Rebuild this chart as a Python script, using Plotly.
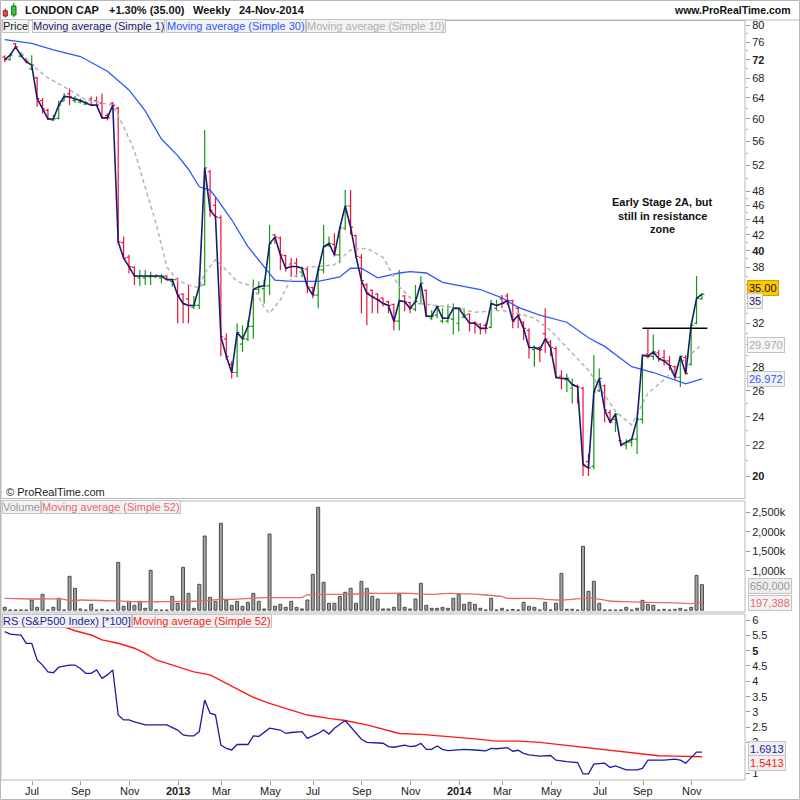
import plotly.graph_objects as go
import pandas as pd
import math

# ---------------- data ----------------
FIRST_WEEK = "2012-06-04"

open_ = [72.6,72.0,75.6,72.8,72.0,70.0,68.1,63.5,61.6,59.8,
         60.1,63.4,64.8,63.5,63.2,62.8,63.8,63.5,63.0,60.6,
         63.0,62.0,41.0,39.2,38.0,36.8,36.8,36.9,36.9,36.8,
         37.0,36.4,36.6,35.0,34.5,33.6,33.8,36.0,51.0,46.0,
         44.3,30.5,28.2,27.5,30.0,30.5,31.7,35.5,35.6,35.9,
         42.0,41.6,39.4,38.4,38.5,37.5,37.8,35.7,34.9,37.7,
         40.6,40.8,39.5,42.9,45.9,41.9,39.2,36.0,35.4,35.0,
         34.6,34.2,33.9,32.2,34.8,34.1,33.4,34.0,35.4,32.5,
         32.8,32.2,32.2,32.4,32.0,32.6,32.9,32.1,31.9,31.8,
         31.6,33.5,34.5,34.8,34.3,33.5,32.1,31.3,29.5,29.7,
         31.0,30.2,29.6,27.2,26.9,26.2,26.4,26.2,20.9,20.6,
         26.0,26.4,24.3,23.8,22.3,22.0,22.2,22.4,23.8,29.1,
         28.9,29.2,28.8,28.5,28.0,27.1,28.8,28.2,32.0,34.5]
high = [73.0,73.5,75.8,73.5,72.4,73.0,68.3,64.0,61.9,60.8,
        63.5,65.0,65.9,64.4,63.9,63.4,64.3,64.3,64.9,61.0,
        63.2,62.3,41.8,39.5,38.1,37.7,37.7,37.5,37.2,37.2,
        37.1,36.7,36.8,35.1,36.0,34.8,37.0,58.0,51.3,47.2,
        44.6,31.0,28.5,32.0,31.8,32.3,36.6,36.4,36.6,43.3,
        42.1,41.8,39.5,39.1,39.1,38.1,38.1,35.8,38.1,43.3,
        41.8,42.2,43.1,48.2,48.2,42.0,39.6,36.2,35.5,35.1,
        34.6,34.3,34.0,37.7,34.9,34.2,36.0,37.0,35.5,33.3,
        33.8,33.5,33.9,34.0,33.6,33.5,33.0,32.2,32.0,32.0,
        34.4,34.4,34.9,35.1,34.4,33.7,32.2,31.5,29.9,29.8,
        33.5,30.4,29.8,27.7,27.4,27.0,26.5,26.3,21.4,29.0,
        27.85,26.5,24.5,24.3,22.35,22.4,22.5,24.0,29.0,31.5,
        30.9,29.5,29.5,28.9,28.1,29.0,29.0,32.0,37.0,35.1]
low = [71.5,71.8,74.4,72.5,71.2,69.7,62.3,61.0,59.8,59.6,
       59.9,63.4,62.6,63.0,62.9,62.6,62.6,62.4,60.2,59.7,
       62.2,40.8,39.0,37.3,36.0,35.9,36.0,36.0,36.8,36.2,
       36.5,35.8,32.0,32.0,32.0,33.4,33.4,36.0,44.4,44.2,
       28.9,28.6,27.0,27.1,29.3,30.3,30.5,35.0,34.0,34.9,
       40.9,37.7,37.5,36.9,36.9,36.9,35.1,34.55,33.5,37.3,
       40.5,39.3,38.5,42.6,42.0,39.1,33.0,31.8,33.0,33.0,
       33.7,33.0,31.3,31.3,33.2,33.0,33.2,33.9,32.6,32.3,
       32.5,32.0,32.0,30.9,31.2,32.5,31.2,31.0,30.9,31.0,
       31.5,33.3,33.5,33.85,31.5,31.5,30.4,28.7,28.0,28.4,
       29.2,28.9,27.0,26.1,25.9,25.0,25.0,20.0,20.0,20.4,
       25.9,23.6,23.5,22.9,21.9,21.7,21.9,21.4,23.5,28.7,
       28.6,28.4,28.1,27.7,26.9,26.3,27.3,28.1,31.9,34.4]
close = [72.0,73.0,74.9,73.0,71.5,70.8,63.9,61.9,60.0,60.0,
         62.6,64.3,64.2,63.8,63.5,63.0,62.6,62.6,60.2,60.2,
         62.6,41.1,39.1,38.1,37.0,37.0,37.0,37.0,37.0,37.0,
         36.6,36.6,34.9,34.0,33.8,33.8,35.9,51.6,45.3,44.4,
         30.7,28.9,27.5,31.1,30.5,31.7,35.5,35.8,35.9,40.9,
         41.7,39.5,37.9,38.1,38.1,37.9,35.8,34.9,37.7,40.5,
         40.9,39.5,42.9,45.9,43.0,39.3,36.5,35.1,34.7,34.4,
         34.0,33.8,32.2,34.3,34.2,33.5,34.2,36.2,32.7,32.7,
         33.7,32.5,32.5,33.5,33.5,32.8,32.0,32.0,31.5,31.5,
         34.0,33.8,34.0,34.3,32.2,32.8,31.5,29.7,29.7,29.5,
         30.5,29.7,27.1,27.0,27.0,26.5,26.3,20.7,20.5,25.9,
         27.0,24.5,23.6,24.2,22.0,22.2,22.4,23.8,29.0,28.9,
         29.3,28.7,28.5,28.1,27.1,28.9,27.4,31.8,34.55,35.0]

# weekly volume, thousands of shares
volume_k = [73,5,5,5,5,260,73,405,5,73,
            303,5,864,558,31,0,150,0,22,0,
            5,1221,99,226,124,226,48,1017,5,0,
            0,354,175,1093,430,48,660,1892,328,226,
            2215,260,124,226,99,201,430,226,31,1943,
            99,150,73,226,73,31,260,915,2623,711,
            175,175,354,456,558,175,736,558,354,286,
            31,31,73,405,73,31,286,685,124,48,
            48,73,48,303,405,150,201,150,48,5,
            303,5,48,0,22,5,201,99,73,5,
            201,5,175,940,22,22,0,1629,481,736,
            175,5,5,0,5,73,5,48,252,150,
            124,5,22,0,22,48,5,73,889,650]

# moving averages (bar index, value)
ma30_i = [0,3,5,9,14,19,23,26,29,32,34,36,38,39,42,45,48,50,53,58,62,64,66,69,73,75,78,81,88,92,95,99,104,108,111,116,120,124,126,129]
ma30_v = [76.6,76.1,75.7,74.2,72.7,69.5,65.6,61.5,56.4,53.6,51.4,48.7,48.2,47.2,44.0,40.5,38.0,36.55,36.4,36.4,36.9,37.9,37.9,36.8,37.35,37.5,37.35,36.3,35.5,34.6,33.6,32.8,32.1,30.6,29.8,28.0,27.5,26.85,26.55,26.972]
ma10_i = [3,5,8,12,15,20,22,24,26,28,30,32,34,36,37,39,41,43,46,48,49,51,53,56,61,64,67,70,73,76,79,83,87,92,95,98,101,104,108,110,113,116,119,122,125,129]
ma10_v = [73.7,70.8,68.1,65.6,63.6,62.6,58.6,54.4,48.6,43.5,38.05,36.5,36.0,35.7,37.35,38.9,37.7,36.4,35.8,33.6,33.0,34.4,36.7,38.0,38.3,40.1,40.3,39.2,35.8,34.1,33.85,33.6,33.1,33.3,33.0,32.5,31.3,29.7,27.7,26.3,24.4,23.4,25.8,26.9,28.3,29.97]
vma_i = [0,5,11,12,14,24,30,36,40,42,48,55,56,58,64,67,69,75,79,82,86,89,92,93,98,100,103,105,107,109,112,115,119,124,127,129]
vma_k = [303,286,278,235,260,218,218,235,278,278,320,329,388,405,405,431,431,431,405,431,414,388,346,303,303,278,260,278,303,303,235,218,200,185,170,197.388]

rs_i = [0,1,3,4,5,6,7,8,9,10,12,13,14,15,16,17,18,19,20,21,22,23,24,26,27,28,30,32,33,34,35,36,37,38,39,40,41,42,43,45,46,47,49,51,52,53,55,56,58,59,60,61,63,64,65,66,67,69,70,71,72,74,75,76,77,78,79,80,81,82,84,85,87,89,90,91,93,94,95,96,97,98,99,101,102,104,106,107,108,109,111,112,113,115,117,118,119,120,122,124,125,126,127,128,129]
rs_v = [5.62,5.54,5.51,5.24,5.24,4.70,4.53,4.31,4.28,4.46,4.53,4.53,4.42,4.26,4.26,4.37,4.10,4.21,4.37,2.90,2.74,2.74,2.68,2.58,2.58,2.58,2.58,2.41,2.25,2.22,2.22,2.36,3.39,2.96,2.90,1.92,1.81,1.76,1.94,1.94,2.22,2.20,2.47,2.41,2.30,2.33,2.36,2.14,2.30,2.41,2.28,2.47,2.72,2.52,2.30,2.11,2.01,2.00,1.98,1.87,1.85,1.92,1.87,1.89,1.98,1.78,1.78,1.89,1.78,1.74,1.78,1.78,1.76,1.73,1.81,1.80,1.84,1.72,1.75,1.65,1.60,1.58,1.56,1.58,1.43,1.38,1.35,0.98,0.98,1.30,1.33,1.19,1.24,1.11,1.11,1.16,1.43,1.43,1.43,1.46,1.43,1.33,1.50,1.69,1.6913]
rsma_i = [0,10,13,16,18,21,24,26,28,31,35,38,41,44,46,49,52,56,60,63,67,71,73,77,81,86,91,95,99,105,108,111,114,118,121,124,126,129]
rsma_v = [6.15,5.84,5.65,5.51,5.35,5.24,5.08,4.91,4.70,4.53,4.31,4.21,3.93,3.66,3.48,3.28,3.12,2.90,2.79,2.72,2.58,2.41,2.30,2.27,2.22,2.14,2.05,2.05,2.01,1.89,1.81,1.76,1.70,1.63,1.57,1.56,1.55,1.5413]

RES_LEVEL = 31.5      # drawn resistance line
RES_FROM, RES_TO = 118, 130

price_ticks = [20,22,24,26,28,32,38,40,42,44,46,48,52,56,60,64,68,72,76,80]
price_bold = [20,40,72]
price_minor = [21,23,25,27,29,30,31,33,34,35,36,37,39,41,43,45,47,50,54,58,62,66,70,74,78]
vol_ticks = [1000000,1500000,2000000,2500000]
vol_tick_text = ["1,000k","1,500k","2,000k","2,500k"]
rs_ticks = [1,2,2.5,3,3.5,4,4.5,5,5.5,6]
rs_bold = [5]

# ---------------- style / geometry ----------------
W = H = 800
FONT = "Liberation Sans, Arial, sans-serif"
RED = "#f0103c"
GREEN = "#139a13"
NAVY = "#1b1b6e"
BLUE = "#3057ff"
GREYMA = "#b4b4b4"
FRAME = "#b8b8b8"
TICK_SHIFT = 1.1
X0, XSTEP = 4.7, 5.405          # pixel of bar 0, pixels per bar
PL, PR = 1, 745                  # plot area left/right pixel
def px(x): return x / W
def py(y): return 1 - y / H
XR = [(PL - X0) / XSTEP, (PR - X0) / XSTEP]

n = len(close)
idx = list(range(n))
dates = pd.date_range(FIRST_WEEK, periods=n, freq="7D")
tick_pos, tick_txt = [], []
for i in range(1, n):
    d = dates[i]
    if d.month != dates[i - 1].month and d.month % 2 == 1:
        tick_pos.append(i + TICK_SHIFT)
        tick_txt.append(f"<b>{d.year}</b>" if d.month == 1 else d.strftime("%b"))

P_TOP, P_BOT = 20.5, 498.5
V_TOP, V_BOT = 501, 612
R_TOP, R_BOT = 614, 780
def price_at(y): return 20 * math.exp((476 - y) / 325)
PRICE_RANGE = [math.log10(price_at(P_BOT)), math.log10(price_at(P_TOP))]
def vol_at(y): return (610.2 - y) * 25500
VOL_RANGE = [vol_at(V_BOT), vol_at(V_TOP)]
def rs_at(y): return 1 + (773.3 - y) / 30.66
RS_RANGE = [rs_at(R_BOT), rs_at(R_TOP)]

fig = go.Figure()
fig.add_trace(go.Scatter(x=ma30_i, y=ma30_v, mode="lines", line=dict(color=BLUE, width=1.3),
                         xaxis="x", yaxis="y", hoverinfo="skip"))
fig.add_trace(go.Scatter(x=ma10_i, y=ma10_v, mode="lines", line=dict(color=GREYMA, width=1.5, dash="4px,3px"),
                         xaxis="x", yaxis="y", hoverinfo="skip"))
fig.add_trace(go.Ohlc(x=idx, open=open_, high=high, low=low, close=close, tickwidth=0.45,
                      increasing=dict(line=dict(color=GREEN, width=1.2)),
                      decreasing=dict(line=dict(color=RED, width=1.2)),
                      xaxis="x", yaxis="y", hoverinfo="skip"))
fig.add_trace(go.Scatter(x=idx, y=close, mode="lines", line=dict(color=NAVY, width=1.6),
                         xaxis="x", yaxis="y", hoverinfo="skip"))
fig.add_trace(go.Scatter(x=[RES_FROM, RES_TO], y=[RES_LEVEL, RES_LEVEL], mode="lines",
                         line=dict(color="black", width=1.5), xaxis="x", yaxis="y", hoverinfo="skip"))

fig.add_trace(go.Bar(x=idx, y=[v * 1000 for v in volume_k], width=0.55,
                     marker=dict(color="#a3a3a3", line=dict(color="#4a4a4a", width=1)),
                     xaxis="x2", yaxis="y2", hoverinfo="skip"))
fig.add_trace(go.Scatter(x=vma_i, y=[v * 1000 for v in vma_k], mode="lines",
                         line=dict(color="#e56a6a", width=1.3, shape="spline", smoothing=0.6),
                         xaxis="x2", yaxis="y2", hoverinfo="skip"))

fig.add_trace(go.Scatter(x=rsma_i, y=rsma_v, mode="lines", line=dict(color="#ff1a1a", width=1.4),
                         xaxis="x3", yaxis="y3", hoverinfo="skip"))
fig.add_trace(go.Scatter(x=rs_i, y=rs_v, mode="lines", line=dict(color="#1c1ca0", width=1.3),
                         xaxis="x3", yaxis="y3", hoverinfo="skip"))

xcommon = dict(range=XR, domain=[px(PL), px(PR)], showgrid=False, zeroline=False,
               showline=False, fixedrange=True)
tf = dict(family=FONT, size=11, color="#222")
fig.update_layout(
    width=W, height=H, margin=dict(l=0, r=0, t=0, b=0),
    paper_bgcolor="white", plot_bgcolor="white", showlegend=False,
    font=dict(family=FONT, size=11, color="#222"),
    xaxis=dict(**xcommon, anchor="y", showticklabels=False, ticks="", rangeslider=dict(visible=False)),
    xaxis2=dict(**xcommon, anchor="y2", showticklabels=False, ticks="", matches="x"),
    xaxis3=dict(**xcommon, anchor="y3", matches="x", ticks="outside", ticklen=4, tickcolor="#999",
                tickmode="array", tickvals=tick_pos, showticklabels=False),
    yaxis=dict(domain=[py(P_BOT), py(P_TOP)], type="log", range=PRICE_RANGE, side="right", anchor="x",
               showgrid=False, zeroline=False, ticks="outside", ticklen=4, tickcolor="#999",
               tickmode="array", tickvals=price_ticks,
               ticktext=[f"<b>{v}</b>" if v in price_bold else str(v) for v in price_ticks],
               tickfont=tf, fixedrange=True,
               minor=dict(tickmode="array", tickvals=price_minor, ticks="outside", ticklen=2, tickcolor="#aaa")),
    yaxis2=dict(domain=[py(V_BOT), py(V_TOP)], range=VOL_RANGE, side="right", anchor="x2",
                showgrid=False, zeroline=False, ticks="outside", ticklen=4, tickcolor="#999",
                tickmode="array", tickvals=vol_ticks, ticktext=vol_tick_text, tickfont=tf, fixedrange=True),
    yaxis3=dict(domain=[py(R_BOT), py(R_TOP)], range=RS_RANGE, side="right", anchor="x3",
                showgrid=False, zeroline=False, ticks="outside", ticklen=4, tickcolor="#999",
                tickmode="array", tickvals=rs_ticks,
                ticktext=[f"<b>{v:g}</b>" if v in rs_bold else f"{v:g}" for v in rs_ticks],
                tickfont=tf, fixedrange=True),
)

shapes = []
def rect(x0, y0, x1, y1, color=FRAME, fill=None, width=1):
    shapes.append(dict(type="rect", xref="paper", yref="paper", x0=px(x0), x1=px(x1), y0=py(y0), y1=py(y1),
                       line=dict(color=color, width=width), fillcolor=fill, layer="above"))
def line(x0, y0, x1, y1, color=FRAME, width=1):
    shapes.append(dict(type="line", xref="paper", yref="paper", x0=px(x0), x1=px(x1), y0=py(y0), y1=py(y1),
                       line=dict(color=color, width=width), layer="above"))
rect(0.5, 0.5, 799.5, 799.5)
line(0, 20, 800, 20)
rect(PL, P_TOP, PR, P_BOT)
rect(PL, V_TOP, PR, V_BOT)
rect(PL, R_TOP, PR, R_BOT)
# header icon (two small candles)
line(5.3, 8.5, 5.3, 17.5, color="#a01818")
rect(3.3, 10.7, 7.3, 16, color="#a01818", fill="#e35555")
line(13.8, 2.7, 13.8, 17.3, color="#127012")
rect(11.7, 6, 16, 15, color="#127012", fill="#3fc23f")

ann = []
def text(x, y, s, size=11, color="#222", bold=False, xanchor="left", bg=None, border=None, pad=1):
    a = dict(xref="paper", yref="paper", x=px(x), y=py(y), text=f"<b>{s}</b>" if bold else s,
             showarrow=False, xanchor=xanchor, yanchor="middle",
             font=dict(family=FONT, size=size, color=color))
    if bg:
        a.update(bgcolor=bg, bordercolor=border or "#c4c4c4", borderwidth=1, borderpad=pad)
    ann.append(a)

text(22.5, 10, "LONDON CAP", bold=True, color="#111")
text(106.5, 10, "+1.30% (35.00)", bold=True, color="#111")
text(190.5, 10, "Weekly", bold=True, color="#111")
text(236.5, 10, "24-Nov-2014", bold=True, color="#111")
text(793, 10, "www.ProRealTime.com", size=10.5, bold=True, color="#111", xanchor="right")

LBG = "#f2f2f2"
text(2, 26.5, "Price", color="#222", bg=LBG, pad=0)
text(32, 26.5, "Moving average (Simple 1)", color=NAVY, bg=LBG, pad=0)
text(166, 26.5, "Moving average (Simple 30)", color=BLUE, bg=LBG, pad=0)
text(306, 26.5, "Moving average (Simple 10)", color="#b0b0b0", bg=LBG, pad=0)
text(2, 507, "Volume", color="#999", bg=LBG, pad=0)
text(41, 507, "Moving average (Simple 52)", color="#e56a6a", bg=LBG, pad=0)
text(2, 620.5, "RS (S&P500 Index) [*100]", color="#1c1ca0", bg=LBG, pad=0)
text(132, 620.5, "Moving average (Simple 52)", color="#ff1a1a", bg=LBG, pad=0)

text(4, 492, "© ProRealTime.com", color="#222")

text(662, 201.7, "Early Stage 2A, but", bold=True, color="#111", xanchor="center")
text(662, 215.7, "still in resistance", bold=True, color="#111", xanchor="center")
text(662, 229.2, "zone", bold=True, color="#111", xanchor="center")

# last-value boxes on the right scales
text(747, 287.5, f"{close[-1]:.2f}", color="#111", bg="#ffc800", border="#c9a000")
text(747, 301, f"{close[-1]:g}", color=NAVY, bg="#f0f0f0")
text(747, 345, f"{ma10_v[-1]:.3f}", color="#aaaaaa", bg="#f7f7f7")
text(747, 379, f"{ma30_v[-1]:.3f}", color=BLUE, bg="#f3f3f3")
text(748, 586, f"{volume_k[-1] * 1000:,.0f}", color="#999", bg="#eeeeee")
text(748, 603, f"{vma_k[-1] * 1000:,.0f}", color="#e56a6a", bg="#f3f3f3")
text(748, 748.5, f"{rs_v[-1]:.4f}", color="#1c1ca0", bg="#f0f0f0")
text(748, 762.5, f"{rsma_v[-1]:.4f}", color="#ff1a1a", bg="#f0f0f0")

# x-axis month labels (under the RS panel)
for tp, tt in zip(tick_pos, tick_txt):
    ann.append(dict(xref="x3", yref="paper", x=tp, y=py(791), text=tt, showarrow=False,
                    xanchor="center", yanchor="middle", font=dict(family=FONT, size=11, color="#222")))

fig.update_layout(shapes=shapes, annotations=ann)
fig.write_html("out.html", config={"displayModeBar": False},
               post_script="document.body.style.margin='0';document.body.style.overflow='hidden';")
